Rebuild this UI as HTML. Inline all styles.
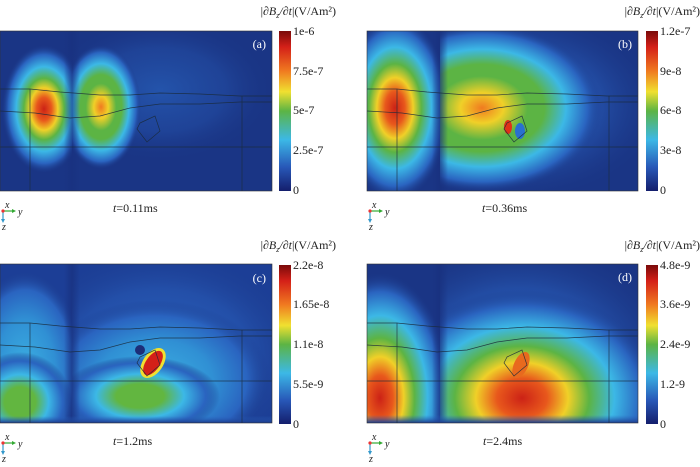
<!DOCTYPE html>
<html><head><meta charset="utf-8"><style>
html,body{margin:0;padding:0;background:#fff;width:700px;height:467px;overflow:hidden;}
svg{display:block;}
text{font-family:"Liberation Serif",serif;fill:#222;}
</style></head><body>
<svg width="700" height="467" viewBox="0 0 700 467" xmlns="http://www.w3.org/2000/svg">
<defs>
<linearGradient id="cb" x1="0" y1="0" x2="0" y2="1">
<stop offset="0" stop-color="#7a0a0a"/><stop offset="0.1" stop-color="#d42018"/><stop offset="0.25" stop-color="#f07a20"/>
<stop offset="0.38" stop-color="#f0e030"/><stop offset="0.5" stop-color="#5cb444"/><stop offset="0.68" stop-color="#3cb8e6"/>
<stop offset="0.85" stop-color="#2858b8"/><stop offset="1" stop-color="#141e6c"/></linearGradient>
<radialGradient id="jR">
<stop offset="0" stop-color="#cc2216"/><stop offset="0.18" stop-color="#e8581c"/><stop offset="0.33" stop-color="#f0d028"/>
<stop offset="0.48" stop-color="#5cb444"/><stop offset="0.66" stop-color="#3cb8e6"/><stop offset="0.85" stop-color="#2a64c0"/>
<stop offset="1" stop-color="#1c3b8c" stop-opacity="0"/></radialGradient>
<radialGradient id="jO">
<stop offset="0" stop-color="#f07a20"/><stop offset="0.18" stop-color="#f0d028"/><stop offset="0.38" stop-color="#5cb444"/>
<stop offset="0.52" stop-color="#5cb444"/><stop offset="0.7" stop-color="#3cb8e6"/><stop offset="0.88" stop-color="#2a64c0"/>
<stop offset="1" stop-color="#1c3b8c" stop-opacity="0"/></radialGradient>
<radialGradient id="jG">
<stop offset="0" stop-color="#62b640"/><stop offset="0.3" stop-color="#62b640"/><stop offset="0.55" stop-color="#3cb8e6"/>
<stop offset="0.82" stop-color="#2a64c0"/><stop offset="1" stop-color="#1c3b8c" stop-opacity="0"/></radialGradient>
<radialGradient id="jC">
<stop offset="0" stop-color="#3cb0e2"/><stop offset="0.5" stop-color="#3090d4"/><stop offset="0.8" stop-color="#2a64c0"/>
<stop offset="1" stop-color="#1c3b8c" stop-opacity="0"/></radialGradient>
<radialGradient id="jB">
<stop offset="0" stop-color="#2a68c4"/><stop offset="0.6" stop-color="#2656b0" stop-opacity="0.7"/><stop offset="1" stop-color="#1c3b8c" stop-opacity="0"/></radialGradient>
<linearGradient id="gap" x1="0" y1="0" x2="1" y2="0">
<stop offset="0" stop-color="#18307e" stop-opacity="0"/><stop offset="0.5" stop-color="#18307e"/><stop offset="1" stop-color="#18307e" stop-opacity="0"/></linearGradient>
<linearGradient id="bot" x1="0" y1="0" x2="0" y2="1">
<stop offset="0" stop-color="#2a64c0" stop-opacity="0"/><stop offset="1" stop-color="#1c3b8c"/></linearGradient>
<clipPath id="ca"><rect x="0" y="31" width="272" height="160"/></clipPath>
<clipPath id="cbp"><rect x="367" y="31" width="271" height="160"/></clipPath>
<clipPath id="cc"><rect x="0" y="264" width="272" height="159"/></clipPath>
<clipPath id="cd"><rect x="367" y="264" width="271" height="159"/></clipPath>
<clipPath id="L1"><rect x="0" y="0" width="72" height="467"/></clipPath>
<clipPath id="R1"><rect x="72" y="0" width="200" height="467"/></clipPath>
<clipPath id="L2"><rect x="367" y="0" width="73" height="467"/></clipPath>
<clipPath id="R2"><rect x="440" y="0" width="200" height="467"/></clipPath>
<g id="lines" fill="none" stroke="#1a2a3a" stroke-width="0.7" opacity="0.85">
<path d="M0 89 L30 89 L60 92 L100 95 L130 95 L160 93 L200 94 L240 96 L272 96"/>
<path d="M0 111 L35 113 L70 118 L100 116 L130 108 L160 104 L200 104 L240 102 L272 102"/>
<path d="M0 147 L272 147"/>
<path d="M30 89 L30 191 M242 96 L242 191"/>
<path d="M140 123 L155 116 L160 131 L147 142 L137 129 Z"/>
</g>
</defs>

<!-- Panel a -->
<g clip-path="url(#ca)">
<rect x="0" y="31" width="272" height="160" fill="#1a3585"/>
<ellipse cx="160" cy="90" rx="110" ry="70" fill="url(#jB)" opacity="0.6"/>
<g clip-path="url(#L1)"><ellipse cx="44" cy="109" rx="42" ry="64" fill="url(#jR)"/></g>
<g clip-path="url(#R1)"><ellipse cx="101" cy="107" rx="40" ry="62" fill="url(#jO)"/></g>
<rect x="64" y="31" width="16" height="160" fill="url(#gap)" opacity="0.6"/>
<use href="#lines"/>
</g>
<rect x="0" y="31" width="272" height="160" fill="none" stroke="#333" stroke-width="0.6"/>
<text x="266" y="48" font-size="12" style="fill:#fff" text-anchor="end">(a)</text>

<!-- Panel b -->
<g clip-path="url(#cbp)">
<rect x="367" y="31" width="271" height="160" fill="#1a3585"/>
<g clip-path="url(#R2)">
<ellipse cx="510" cy="105" rx="150" ry="95" fill="url(#jB)"/>
<ellipse cx="482" cy="108" rx="120" ry="84" fill="url(#jO)"/>
</g>
<g clip-path="url(#L2)">
<ellipse cx="395" cy="108" rx="55" ry="92" fill="url(#jR)"/>
</g>
<rect x="432" y="31" width="16" height="160" fill="url(#gap)" opacity="0.7"/>
<ellipse cx="508" cy="127" rx="4" ry="7" fill="#e03018"/>
<ellipse cx="520" cy="131" rx="5" ry="8" fill="#2a70d0"/>
<use href="#lines" transform="translate(367 0)"/>
</g>
<rect x="367" y="31" width="271" height="160" fill="none" stroke="#333" stroke-width="0.6"/>
<text x="632" y="48" font-size="12" style="fill:#fff" text-anchor="end">(b)</text>

<!-- Panel c -->
<g clip-path="url(#cc)">
<rect x="0" y="264" width="272" height="159" fill="#1c3e96"/>
<g clip-path="url(#R1)">
<ellipse cx="160" cy="355" rx="150" ry="110" fill="url(#jB)"/>
<ellipse cx="155" cy="380" rx="115" ry="80" fill="url(#jC)"/>
<ellipse cx="140" cy="396" rx="80" ry="40" fill="url(#jG)"/>
</g>
<g clip-path="url(#L1)">
<ellipse cx="25" cy="370" rx="60" ry="100" fill="url(#jC)"/>
<ellipse cx="20" cy="402" rx="52" ry="50" fill="url(#jG)"/>
</g>
<rect x="64" y="264" width="16" height="159" fill="url(#gap)" opacity="0.7"/>
<rect x="0" y="416" width="272" height="7" fill="url(#bot)"/>
<ellipse cx="140" cy="350" rx="5" ry="5" fill="#1c2e78"/>
<ellipse cx="153" cy="363" rx="10" ry="17" transform="rotate(35 153 363)" fill="#f0e030"/>
<ellipse cx="153" cy="363" rx="7" ry="14" transform="rotate(35 153 363)" fill="#d42018"/>
<use href="#lines" transform="translate(0 234)"/>
</g>
<rect x="0" y="264" width="272" height="159" fill="none" stroke="#333" stroke-width="0.6"/>
<text x="266" y="282" font-size="12" style="fill:#fff" text-anchor="end">(c)</text>

<!-- Panel d -->
<g clip-path="url(#cd)">
<rect x="367" y="264" width="271" height="159" fill="#1a3585"/>
<g clip-path="url(#R2)">
<ellipse cx="520" cy="360" rx="160" ry="120" fill="url(#jB)"/>
<ellipse cx="522" cy="398" rx="140" ry="108" fill="url(#jR)"/>
</g>
<g clip-path="url(#L2)">
<ellipse cx="380" cy="398" rx="72" ry="125" fill="url(#jR)"/>
</g>
<rect x="432" y="264" width="16" height="159" fill="url(#gap)" opacity="0.7"/>
<rect x="367" y="415" width="271" height="8" fill="url(#bot)"/>
<ellipse cx="521" cy="365" rx="7" ry="14" transform="rotate(25 521 365)" fill="#e86a1e"/>
<use href="#lines" transform="translate(367 234)"/>
</g>
<rect x="367" y="264" width="271" height="159" fill="none" stroke="#333" stroke-width="0.6"/>
<text x="632" y="281" font-size="12" style="fill:#fff" text-anchor="end">(d)</text>

<!-- colorbars -->
<g font-size="12">
<rect x="279" y="31" width="12" height="160" fill="url(#cb)"/>
<text x="293" y="35">1e-6</text><text x="293" y="75">7.5e-7</text><text x="293" y="114">5e-7</text><text x="293" y="154">2.5e-7</text><text x="293" y="194">0</text>
<rect x="646" y="31" width="12" height="160" fill="url(#cb)"/>
<text x="660" y="35">1.2e-7</text><text x="660" y="75">9e-8</text><text x="660" y="114">6e-8</text><text x="660" y="154">3e-8</text><text x="660" y="194">0</text>
<rect x="279" y="265" width="12" height="159" fill="url(#cb)"/>
<text x="293" y="269">2.2e-8</text><text x="293" y="308">1.65e-8</text><text x="293" y="348">1.1e-8</text><text x="293" y="388">5.5e-9</text><text x="293" y="428">0</text>
<rect x="646" y="265" width="12" height="159" fill="url(#cb)"/>
<text x="660" y="269">4.8e-9</text><text x="660" y="308">3.6e-9</text><text x="660" y="348">2.4e-9</text><text x="660" y="388">1.2-9</text><text x="660" y="428">0</text>
</g>
<!-- titles -->
<g font-size="12">
<text x="336" y="15" text-anchor="end">|<tspan font-style="italic">∂B</tspan><tspan font-style="italic" font-size="8" dy="3">z</tspan><tspan dy="-3" font-style="italic">/∂t</tspan>|(V/Am²)</text>
<text x="700" y="15" text-anchor="end">|<tspan font-style="italic">∂B</tspan><tspan font-style="italic" font-size="8" dy="3">z</tspan><tspan dy="-3" font-style="italic">/∂t</tspan>|(V/Am²)</text>
<text x="336" y="249" text-anchor="end">|<tspan font-style="italic">∂B</tspan><tspan font-style="italic" font-size="8" dy="3">z</tspan><tspan dy="-3" font-style="italic">/∂t</tspan>|(V/Am²)</text>
<text x="700" y="249" text-anchor="end">|<tspan font-style="italic">∂B</tspan><tspan font-style="italic" font-size="8" dy="3">z</tspan><tspan dy="-3" font-style="italic">/∂t</tspan>|(V/Am²)</text>
</g>
<!-- time labels -->
<g font-size="12">
<text x="113" y="212"><tspan font-style="italic">t</tspan>=0.11ms</text>
<text x="482" y="212"><tspan font-style="italic">t</tspan>=0.36ms</text>
<text x="113" y="445"><tspan font-style="italic">t</tspan>=1.2ms</text>
<text x="483" y="445"><tspan font-style="italic">t</tspan>=2.4ms</text>
</g>
<!-- axis icons -->
<g id="ax">
<line x1="3" y1="211" x2="14" y2="211" stroke="#3a3" stroke-width="1.2"/>
<path d="M16 211 L12 209 L12 213 Z" fill="#3a3"/>
<line x1="3" y1="211" x2="3" y2="221" stroke="#39c" stroke-width="1.2"/>
<path d="M3 223 L1 219 L5 219 Z" fill="#39c"/>
<circle cx="3" cy="211" r="1.6" fill="#e33"/>
<text x="5" y="208" font-size="10" font-style="italic">x</text>
<text x="18" y="215" font-size="10" font-style="italic">y</text>
<text x="2" y="230" font-size="10" font-style="italic">z</text>
</g>
<use href="#ax" transform="translate(367 0)"/>
<use href="#ax" transform="translate(0 232)"/>
<use href="#ax" transform="translate(367 232)"/>
</svg>
</body></html>
